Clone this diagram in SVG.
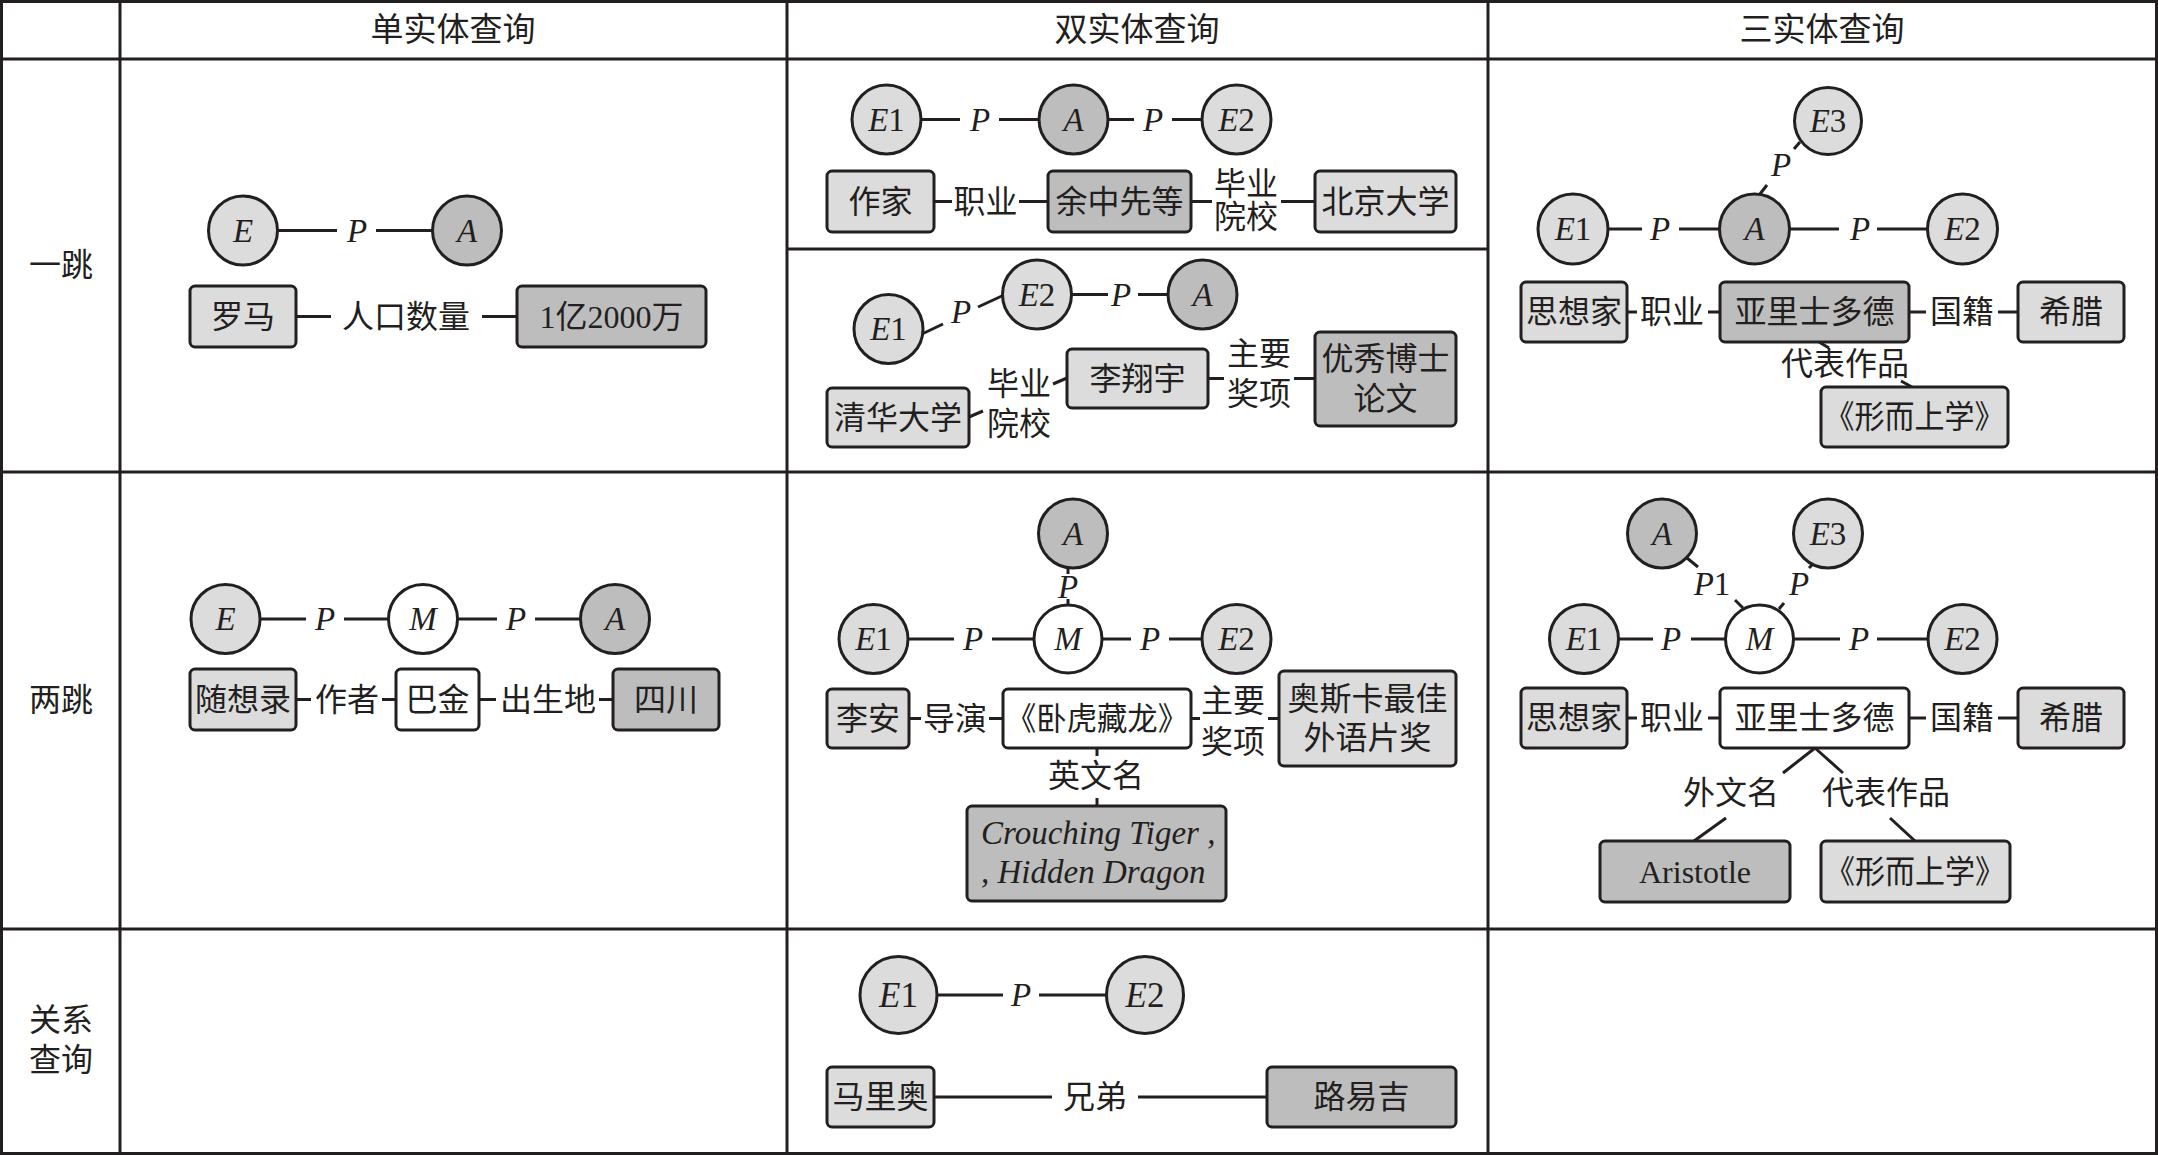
<svg xmlns="http://www.w3.org/2000/svg" width="2158" height="1156" viewBox="0 0 2158 1156">
<style>
.grid{stroke:#231f20;stroke-width:3;fill:none}
.ln{stroke:#231f20;stroke-width:3;fill:none}
.lt{fill:#dcdcdc;stroke:#231f20;stroke-width:3}
.dk{fill:#bdbdbd;stroke:#231f20;stroke-width:3}
.wh{fill:#ffffff;stroke:#231f20;stroke-width:3}
text{font-family:"Liberation Serif","Noto Sans CJK SC",serif;font-size:32px;fill:#231f20;text-anchor:middle;dominant-baseline:central}
.v{font-style:italic;font-size:33px}
.n{font-style:normal}
.hd{font-size:33px}
</style>
<rect width="2158" height="1156" fill="#ffffff"/>
<g id="table">
<rect class="grid" x="1.5" y="1.5" width="2155" height="1152"/>
<line class="grid" x1="120" y1="1.5" x2="120" y2="1153.5"/>
<line class="grid" x1="787" y1="1.5" x2="787" y2="1153.5"/>
<line class="grid" x1="1488" y1="1.5" x2="1488" y2="1153.5"/>
<line class="grid" x1="1.5" y1="59" x2="2156.5" y2="59"/>
<line class="grid" x1="1.5" y1="472" x2="2156.5" y2="472"/>
<line class="grid" x1="1.5" y1="929" x2="2156.5" y2="929"/>
<line class="grid" x1="787" y1="249" x2="1488" y2="249"/>
<text class="hd" x="453" y="30">单实体查询</text>
<text class="hd" x="1137" y="30">双实体查询</text>
<text class="hd" x="1822" y="30">三实体查询</text>
<text x="61" y="265">一跳</text>
<text x="61" y="700">两跳</text>
<text x="61" y="1020">关系</text>
<text x="61" y="1060">查询</text>
</g>
<g id="connectors">
<line class="ln" x1="278" y1="230.5" x2="337" y2="230.5"/>
<line class="ln" x1="376" y1="230.5" x2="432" y2="230.5"/>
<line class="ln" x1="296" y1="316.5" x2="331" y2="316.5"/>
<line class="ln" x1="482" y1="316.5" x2="517" y2="316.5"/>
<line class="ln" x1="921" y1="119.5" x2="960" y2="119.5"/>
<line class="ln" x1="999" y1="119.5" x2="1039" y2="119.5"/>
<line class="ln" x1="1108" y1="119.5" x2="1134" y2="119.5"/>
<line class="ln" x1="1172" y1="119.5" x2="1202" y2="119.5"/>
<line class="ln" x1="934" y1="201.5" x2="952" y2="201.5"/>
<line class="ln" x1="1019" y1="201.5" x2="1048" y2="201.5"/>
<line class="ln" x1="1191" y1="201.5" x2="1212" y2="201.5"/>
<line class="ln" x1="1281" y1="201.5" x2="1315" y2="201.5"/>
<line class="ln" x1="922" y1="334" x2="943" y2="324"/>
<line class="ln" x1="978" y1="307" x2="1004" y2="295"/>
<line class="ln" x1="1071" y1="294.5" x2="1108" y2="294.5"/>
<line class="ln" x1="1138" y1="294.5" x2="1168" y2="294.5"/>
<line class="ln" x1="969" y1="417" x2="983" y2="411"/>
<line class="ln" x1="1053" y1="384" x2="1067" y2="378"/>
<line class="ln" x1="1208" y1="378.5" x2="1224" y2="378.5"/>
<line class="ln" x1="1294" y1="378.5" x2="1315" y2="378.5"/>
<line class="ln" x1="1608" y1="229" x2="1642" y2="229"/>
<line class="ln" x1="1679" y1="229" x2="1720" y2="229"/>
<line class="ln" x1="1789" y1="229" x2="1839" y2="229"/>
<line class="ln" x1="1877" y1="229" x2="1928" y2="229"/>
<line class="ln" x1="1760" y1="194" x2="1767" y2="185"/>
<line class="ln" x1="1794" y1="149" x2="1800" y2="142"/>
<line class="ln" x1="1627" y1="312" x2="1637" y2="312"/>
<line class="ln" x1="1708" y1="312" x2="1720" y2="312"/>
<line class="ln" x1="1909" y1="312" x2="1926" y2="312"/>
<line class="ln" x1="1998" y1="312" x2="2018" y2="312"/>
<line class="ln" x1="1819" y1="342" x2="1829" y2="348"/>
<line class="ln" x1="1901" y1="381" x2="1912" y2="387"/>
<line class="ln" x1="260" y1="619" x2="306" y2="619"/>
<line class="ln" x1="344" y1="619" x2="389" y2="619"/>
<line class="ln" x1="457" y1="619" x2="497" y2="619"/>
<line class="ln" x1="535" y1="619" x2="581" y2="619"/>
<line class="ln" x1="296" y1="699.5" x2="311" y2="699.5"/>
<line class="ln" x1="382" y1="699.5" x2="396" y2="699.5"/>
<line class="ln" x1="479" y1="699.5" x2="496" y2="699.5"/>
<line class="ln" x1="599" y1="699.5" x2="613" y2="699.5"/>
<line class="ln" x1="1068" y1="567" x2="1068" y2="574"/>
<line class="ln" x1="1068" y1="599" x2="1068" y2="605"/>
<line class="ln" x1="908" y1="639" x2="954" y2="639"/>
<line class="ln" x1="992" y1="639" x2="1034" y2="639"/>
<line class="ln" x1="1102" y1="639" x2="1131" y2="639"/>
<line class="ln" x1="1169" y1="639" x2="1202" y2="639"/>
<line class="ln" x1="909" y1="718.5" x2="921" y2="718.5"/>
<line class="ln" x1="989" y1="718.5" x2="1003" y2="718.5"/>
<line class="ln" x1="1191" y1="718.5" x2="1200" y2="718.5"/>
<line class="ln" x1="1268" y1="718.5" x2="1279" y2="718.5"/>
<line class="ln" x1="1097" y1="748" x2="1097" y2="756"/>
<line class="ln" x1="1097" y1="798" x2="1097" y2="806"/>
<line class="ln" x1="1687" y1="558" x2="1698" y2="567"/>
<line class="ln" x1="1735" y1="600" x2="1743" y2="608"/>
<line class="ln" x1="1809" y1="568" x2="1814" y2="563"/>
<line class="ln" x1="1779" y1="609" x2="1784" y2="603"/>
<line class="ln" x1="1618" y1="639" x2="1653" y2="639"/>
<line class="ln" x1="1691" y1="639" x2="1725" y2="639"/>
<line class="ln" x1="1794" y1="639" x2="1840" y2="639"/>
<line class="ln" x1="1877" y1="639" x2="1928" y2="639"/>
<line class="ln" x1="1627" y1="718" x2="1637" y2="718"/>
<line class="ln" x1="1708" y1="718" x2="1720" y2="718"/>
<line class="ln" x1="1909" y1="718" x2="1926" y2="718"/>
<line class="ln" x1="1998" y1="718" x2="2018" y2="718"/>
<line class="ln" x1="1815" y1="748" x2="1783" y2="773"/>
<line class="ln" x1="1815" y1="748" x2="1843" y2="773"/>
<line class="ln" x1="1726" y1="818" x2="1694" y2="841"/>
<line class="ln" x1="1890" y1="818" x2="1915" y2="841"/>
<line class="ln" x1="937" y1="995" x2="1003" y2="995"/>
<line class="ln" x1="1039" y1="995" x2="1106" y2="995"/>
<line class="ln" x1="934" y1="1097" x2="1052" y2="1097"/>
<line class="ln" x1="1138" y1="1097" x2="1267" y2="1097"/>
</g>
<g id="labels">
<text class="v" x="357" y="230.5">P</text>
<text x="406" y="316.5">人口数量</text>
<text class="v" x="980" y="119.5">P</text>
<text class="v" x="1153" y="119.5">P</text>
<text x="985.5" y="201.5">职业</text>
<text x="1246" y="184">毕业</text>
<text x="1246" y="217">院校</text>
<text class="v" x="961" y="312">P</text>
<text class="v" x="1121" y="294.5">P</text>
<text x="1019" y="384">毕业</text>
<text x="1019" y="424">院校</text>
<text x="1259" y="354">主要</text>
<text x="1259" y="394">奖项</text>
<text class="v" x="1660" y="229">P</text>
<text class="v" x="1860" y="229">P</text>
<text class="v" x="1781" y="165">P</text>
<text x="1672" y="312">职业</text>
<text x="1962" y="312">国籍</text>
<text x="1845" y="364">代表作品</text>
<text class="v" x="325" y="619">P</text>
<text class="v" x="516" y="619">P</text>
<text x="347" y="699.5">作者</text>
<text x="548" y="699.5">出生地</text>
<text class="v" x="1068" y="587">P</text>
<text class="v" x="973" y="639">P</text>
<text class="v" x="1150" y="639">P</text>
<text x="955" y="718.5">导演</text>
<text x="1233" y="701">主要</text>
<text x="1233" y="742">奖项</text>
<text x="1096" y="776">英文名</text>
<text class="v" x="1712" y="584">P<tspan class="n">1</tspan></text>
<text class="v" x="1799" y="584">P</text>
<text class="v" x="1671" y="639">P</text>
<text class="v" x="1859" y="639">P</text>
<text x="1672" y="718">职业</text>
<text x="1962" y="718">国籍</text>
<text x="1731" y="793">外文名</text>
<text x="1886" y="793">代表作品</text>
<text class="v" x="1021" y="995">P</text>
<text x="1095" y="1097">兄弟</text>
</g>
<g id="c1-E"><circle class="lt" cx="243" cy="230.5" r="34.5"/><text class="v" x="243" y="230.5">E</text></g>
<g id="c1-A"><circle class="dk" cx="467" cy="230.5" r="34.5"/><text class="v" x="467" y="230.5">A</text></g>
<g id="c1-luoma"><rect class="lt" x="190" y="286" width="106" height="61" rx="5"/><text x="243" y="316.5">罗马</text></g>
<g id="c1-pop"><rect class="dk" x="517" y="286" width="189" height="61" rx="5"/><text x="611.5" y="316.5">1亿2000万</text></g>
<g id="c2a-E1"><circle class="lt" cx="886.5" cy="119.5" r="34.5"/><text class="v" x="886.5" y="119.5">E<tspan class="n">1</tspan></text></g>
<g id="c2a-A"><circle class="dk" cx="1073.5" cy="119.5" r="34.5"/><text class="v" x="1073.5" y="119.5">A</text></g>
<g id="c2a-E2"><circle class="lt" cx="1236.5" cy="119.5" r="34.5"/><text class="v" x="1236.5" y="119.5">E<tspan class="n">2</tspan></text></g>
<g id="c2a-zuojia"><rect class="lt" x="827" y="171" width="107" height="61" rx="5"/><text x="880.5" y="201.5">作家</text></g>
<g id="c2a-yu"><rect class="dk" x="1048" y="171" width="143" height="61" rx="5"/><text x="1119.5" y="201.5">余中先等</text></g>
<g id="c2a-pku"><rect class="lt" x="1315" y="171" width="141" height="61" rx="5"/><text x="1385.5" y="201.5">北京大学</text></g>
<g id="c2b-E1"><circle class="lt" cx="888.5" cy="329" r="34.5"/><text class="v" x="888.5" y="329">E<tspan class="n">1</tspan></text></g>
<g id="c2b-E2"><circle class="lt" cx="1037" cy="294.5" r="34.5"/><text class="v" x="1037" y="294.5">E<tspan class="n">2</tspan></text></g>
<g id="c2b-A"><circle class="dk" cx="1202.5" cy="294.5" r="34.5"/><text class="v" x="1202.5" y="294.5">A</text></g>
<g id="c2b-thu"><rect class="lt" x="827" y="388" width="142" height="59" rx="5"/><text x="898" y="417.5">清华大学</text></g>
<g id="c2b-li"><rect class="lt" x="1067" y="349" width="141" height="59" rx="5"/><text x="1137.5" y="378.5">李翔宇</text></g>
<g id="c2b-award"><rect class="dk" x="1315" y="332" width="141" height="94" rx="5"/><text x="1385.5" y="359">优秀博士</text><text x="1385.5" y="399">论文</text></g>
<g id="c3-E3"><circle class="lt" cx="1828" cy="121" r="33.5"/><text class="v" x="1828" y="121">E<tspan class="n">3</tspan></text></g>
<g id="c3-E1"><circle class="lt" cx="1573" cy="229" r="35"/><text class="v" x="1573" y="229">E<tspan class="n">1</tspan></text></g>
<g id="c3-A"><circle class="dk" cx="1754.5" cy="229" r="35"/><text class="v" x="1754.5" y="229">A</text></g>
<g id="c3-E2"><circle class="lt" cx="1962.5" cy="229" r="35"/><text class="v" x="1962.5" y="229">E<tspan class="n">2</tspan></text></g>
<g id="c3-sxj"><rect class="lt" x="1521" y="282" width="106" height="60" rx="5"/><text x="1574" y="312">思想家</text></g>
<g id="c3-arist"><rect class="dk" x="1720" y="282" width="189" height="60" rx="5"/><text x="1814.5" y="312">亚里士多德</text></g>
<g id="c3-greece"><rect class="lt" x="2018" y="282" width="106" height="60" rx="5"/><text x="2071" y="312">希腊</text></g>
<g id="c3-meta"><rect class="lt" x="1821" y="387" width="187" height="60" rx="5"/><text x="1914.5" y="417" textLength="180" lengthAdjust="spacingAndGlyphs">《形而上学》</text></g>
<g id="c4-E"><circle class="lt" cx="225.5" cy="619" r="34.5"/><text class="v" x="225.5" y="619">E</text></g>
<g id="c4-M"><circle class="wh" cx="423" cy="619" r="34.5"/><text class="v" x="423" y="619">M</text></g>
<g id="c4-A"><circle class="dk" cx="615" cy="619" r="34.5"/><text class="v" x="615" y="619">A</text></g>
<g id="c4-sxl"><rect class="lt" x="190" y="669" width="106" height="61" rx="5"/><text x="243" y="699.5">随想录</text></g>
<g id="c4-bajin"><rect class="wh" x="396" y="669" width="83" height="61" rx="5"/><text x="437.5" y="699.5">巴金</text></g>
<g id="c4-sc"><rect class="dk" x="613" y="669" width="106" height="61" rx="5"/><text x="666" y="699.5">四川</text></g>
<g id="c5-A"><circle class="dk" cx="1073" cy="533.5" r="34.5"/><text class="v" x="1073" y="533.5">A</text></g>
<g id="c5-E1"><circle class="lt" cx="873.5" cy="639" r="34.5"/><text class="v" x="873.5" y="639">E<tspan class="n">1</tspan></text></g>
<g id="c5-M"><circle class="wh" cx="1068" cy="639" r="34"/><text class="v" x="1068" y="639">M</text></g>
<g id="c5-E2"><circle class="lt" cx="1236.5" cy="639" r="34.5"/><text class="v" x="1236.5" y="639">E<tspan class="n">2</tspan></text></g>
<g id="c5-lian"><rect class="lt" x="827" y="689" width="82" height="59" rx="5"/><text x="868" y="718.5">李安</text></g>
<g id="c5-film"><rect class="wh" x="1003" y="689" width="188" height="59" rx="5"/><text x="1097" y="718.5" textLength="182" lengthAdjust="spacingAndGlyphs">《卧虎藏龙》</text></g>
<g id="c5-oscar"><rect class="lt" x="1279" y="671" width="177" height="95" rx="5"/><text x="1367.5" y="699">奥斯卡最佳</text><text x="1367.5" y="738">外语片奖</text></g>
<g id="c5-en"><rect class="dk" x="967" y="806" width="259" height="95" rx="5"/><text class="v" x="981" y="833" style="text-anchor:start">Crouching Tiger ,</text><text class="v" x="981" y="872" style="text-anchor:start">, Hidden Dragon</text></g>
<g id="c6-A"><circle class="dk" cx="1662" cy="533.5" r="34.5"/><text class="v" x="1662" y="533.5">A</text></g>
<g id="c6-E3"><circle class="lt" cx="1828" cy="533.5" r="34.5"/><text class="v" x="1828" y="533.5">E<tspan class="n">3</tspan></text></g>
<g id="c6-E1"><circle class="lt" cx="1584" cy="639" r="34.5"/><text class="v" x="1584" y="639">E<tspan class="n">1</tspan></text></g>
<g id="c6-M"><circle class="wh" cx="1759.5" cy="639" r="34"/><text class="v" x="1759.5" y="639">M</text></g>
<g id="c6-E2"><circle class="lt" cx="1962.5" cy="639" r="34.5"/><text class="v" x="1962.5" y="639">E<tspan class="n">2</tspan></text></g>
<g id="c6-sxj"><rect class="lt" x="1521" y="688" width="106" height="60" rx="5"/><text x="1574" y="718">思想家</text></g>
<g id="c6-arist"><rect class="wh" x="1720" y="688" width="189" height="60" rx="5"/><text x="1814.5" y="718">亚里士多德</text></g>
<g id="c6-greece"><rect class="lt" x="2018" y="688" width="106" height="60" rx="5"/><text x="2071" y="718">希腊</text></g>
<g id="c6-en"><rect class="dk" x="1600" y="841" width="190" height="61" rx="5"/><text x="1695" y="871.5">Aristotle</text></g>
<g id="c6-meta"><rect class="lt" x="1821" y="841" width="189" height="61" rx="5"/><text x="1915" y="871.5" textLength="180" lengthAdjust="spacingAndGlyphs">《形而上学》</text></g>
<g id="c7-E1"><circle class="lt" cx="898.5" cy="995" r="38.5"/><text class="v" x="898.5" y="995" style="font-size:35px">E<tspan class="n">1</tspan></text></g>
<g id="c7-E2"><circle class="lt" cx="1145" cy="995" r="38.5"/><text class="v" x="1145" y="995" style="font-size:35px">E<tspan class="n">2</tspan></text></g>
<g id="c7-mario"><rect class="lt" x="827" y="1067" width="107" height="60" rx="5"/><text x="880.5" y="1097">马里奥</text></g>
<g id="c7-luigi"><rect class="dk" x="1267" y="1067" width="189" height="60" rx="5"/><text x="1361.5" y="1097">路易吉</text></g>
</svg>
